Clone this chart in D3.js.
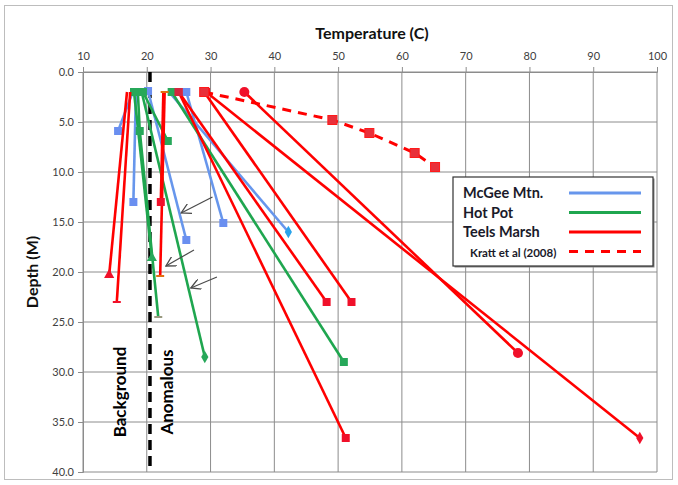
<!DOCTYPE html>
<html>
<head>
<meta charset="utf-8">
<script src="https://cdn.jsdelivr.net/npm/d3@7"></script>
<style>
body{margin:0;background:#fff;}
svg text{font-family:Lato,"Open Sans",sans-serif;}
</style>
</head>
<body>
<div id="container"></div>
<script>
//temperature profiles, each line is [temperature (C), depth (M)] points
var mcgeeLines = [
    [[17.8, 2.0], [15.5, 5.9]],
    [[18.3, 2.0], [17.9, 13.0]],
    [[20.2, 1.9], [26.2, 16.8]],
    [[26.2, 2.0], [32.0, 15.1]],
    [[23.5, 2.0], [42.2, 16.0]]
];
var hotPotLines = [
    [[18.0, 2.0], [20.8, 18.6]],
    [[18.6, 2.0], [18.9, 5.9], [21.8, 24.5]],
    [[19.2, 2.0], [29.1, 28.5]],
    [[19.4, 2.0], [23.3, 6.9]],
    [[23.9, 2.0], [50.9, 29.0]]
];
var teelsLines = [
    [[16.9, 2.0], [14.1, 20.3]],
    [[17.4, 2.0], [15.3, 23.0]],
    [[22.6, 2.0], [22.2, 13.0]],
    [[22.8, 2.0], [22.1, 20.4]],
    [[25.0, 2.0], [51.2, 36.6]],
    [[25.0, 2.0], [48.2, 23.0]],
    [[29.0, 2.0], [52.1, 23.0]],
    [[35.3, 2.0], [78.2, 28.1]],
    [[29.3, 2.0], [97.3, 36.6]]
];
var krattLine = [[29.0, 2.0], [49.1, 4.8], [54.9, 6.1], [62.0, 8.1], [65.2, 9.5]];

var tempTicks = [10, 20, 30, 40, 50, 60, 70, 80, 90, 100];
var depthTicks = [0, 5, 10, 15, 20, 25, 30, 35, 40];
var boundaryTemp = 20.5;
var legendNames = ["McGee Mtn.", "Hot Pot", "Teels Marsh", "Kratt et al (2008)"];

//arrows pointing at the anomalous wells, [from, to] in temperature/depth
var arrows = [
    [[30.3, 12.5], [25.4, 14.1]],
    [[27.4, 17.8], [23.0, 19.4]],
    [[31.0, 20.5], [26.9, 21.6]]
];

//marker shapes for each point of each line (styling)
var mcgeeMarks = [["none", "square"], ["none", "square"], ["square", "square"], ["square", "square"], ["none", "diamond"]];
var hotPotMarks = [["square", "triangle"], ["square", "square", "dash"], ["square", "diamond"], ["square", "square"], ["square", "square"]];
var teelsMarks = [["none", "triangle"], ["none", "dash"], ["none", "square"], ["dash", "dash"], ["square", "square"],
    ["square", "square"], ["square", "square"], ["circle", "circle"], ["square", "diamond"]];

var width = 678, height = 485;
var svg = d3.select("#container").append("svg")
    .attr("width", width)
    .attr("height", height);

//outer chart frame
svg.append("rect")
    .attr("x", 4.5).attr("y", 5.5)
    .attr("width", 668).attr("height", 474)
    .attr("fill", "#fff")
    .attr("stroke", "#bdbdbd");

var x = d3.scaleLinear().domain([10, 100]).range([83, 657]);
var y = d3.scaleLinear().domain([0, 40]).range([72, 472]);

//gridlines
svg.append("g").selectAll("line")
    .data(tempTicks)
    .enter().append("line")
    .attr("x1", d => x(d)).attr("x2", d => x(d))
    .attr("y1", y(0)).attr("y2", y(40))
    .attr("stroke", "#8c8c8c").attr("stroke-width", 1);
svg.append("g").selectAll("line")
    .data(depthTicks)
    .enter().append("line")
    .attr("x1", x(10)).attr("x2", x(100))
    .attr("y1", d => y(d)).attr("y2", d => y(d))
    .attr("stroke", "#8c8c8c").attr("stroke-width", 1);

//axes
var xAxis = d3.axisTop(x).tickValues(tempTicks).tickSize(5).tickPadding(4).tickFormat(d3.format("d"));
var yAxis = d3.axisLeft(y).tickValues(depthTicks).tickSize(5).tickPadding(4).tickFormat(d3.format(".1f"));

var gx = svg.append("g").attr("transform", "translate(0," + y(0) + ")").call(xAxis);
var gy = svg.append("g").attr("transform", "translate(" + x(10) + ",0)").call(yAxis);
[gx, gy].forEach(function(g){
    g.select(".domain").attr("stroke", "#8c8c8c");
    g.selectAll(".tick line").attr("stroke", "#8c8c8c");
    g.selectAll(".tick text").attr("fill", "#404040").style("font-size", "11px");
});
gx.selectAll(".tick text").attr("dy", "-3px");

svg.append("text")
    .attr("x", 372).attr("y", 39)
    .attr("text-anchor", "middle")
    .style("font-size", "16px").style("font-weight", "bold")
    .attr("fill", "#111")
    .text("Temperature (C)");

svg.append("text")
    .attr("transform", "translate(38," + y(20) + ") rotate(-90)")
    .attr("text-anchor", "middle")
    .style("font-size", "16px").style("font-weight", "bold")
    .attr("fill", "#111")
    .text("Depth (M)");

//background / anomalous boundary
svg.append("line")
    .attr("x1", x(boundaryTemp)).attr("x2", x(boundaryTemp))
    .attr("y1", y(0)).attr("y2", y(40))
    .attr("stroke", "#000").attr("stroke-width", 3.5)
    .attr("stroke-dasharray", "10,6");

svg.append("text")
    .attr("transform", "translate(" + (x(15.8) + 6) + "," + y(32) + ") rotate(-90)")
    .attr("text-anchor", "middle")
    .style("font-size", "17px").style("font-weight", "bold")
    .text("Background");
svg.append("text")
    .attr("transform", "translate(" + (x(23.2) + 6) + "," + y(32) + ") rotate(-90)")
    .attr("text-anchor", "middle")
    .style("font-size", "17px").style("font-weight", "bold")
    .text("Anomalous");

var line = d3.line().x(d => x(d[0])).y(d => y(d[1]));

function drawMark(g, type, px, py, color){
    if (type === "none") return;
    if (type === "dash") {
        g.append("line")
            .attr("x1", px - 4).attr("x2", px + 4)
            .attr("y1", py).attr("y2", py)
            .attr("stroke", color).attr("stroke-width", 2);
        return;
    }
    var sym = {square: d3.symbolSquare, triangle: d3.symbolTriangle, diamond: d3.symbolDiamond, circle: d3.symbolCircle}[type];
    var size = type === "square" ? 64 : (type === "circle" ? 80 : 45);
    g.append("path")
        .attr("d", d3.symbol().type(sym).size(size)())
        .attr("transform", "translate(" + px + "," + py + ")")
        .attr("fill", color);
}

function drawSeries(lines, marks, color, markColors){
    var g = svg.append("g");
    lines.forEach(function(pts){
        g.append("path")
            .attr("d", line(pts))
            .attr("fill", "none")
            .attr("stroke", color)
            .attr("stroke-width", 2.6);
    });
    lines.forEach(function(pts, i){
        pts.forEach(function(p, j){
            drawMark(g, marks[i][j], x(p[0]), y(p[1]), markColors ? markColors(i, j) : color);
        });
    });
}

var blue = "#6796ec", green = "#1fa64f", red = "#ff0000";

drawSeries(mcgeeLines, mcgeeMarks, blue, function(i, j){
    return (i === 4 && j === 1) ? "#2aa3ea" : "#6a8ff0";
});
drawSeries(hotPotLines, hotPotMarks, green, function(i, j){
    if (i === 1 && j === 2) return "#9a9a80";
    return "#27a85a";
});
drawSeries(teelsLines, teelsMarks, red, function(i, j){
    if (i === 3) return "#e07010";
    if ((i === 4 || i === 5) && j === 0) return "#d4253f";
    return "#f0102a";
});

//Kratt et al dashed series
var kg = svg.append("g");
kg.append("path")
    .attr("d", line(krattLine))
    .attr("fill", "none")
    .attr("stroke", red)
    .attr("stroke-width", 3)
    .attr("stroke-dasharray", "9,7");
krattLine.forEach(function(p){
    kg.append("rect")
        .attr("x", x(p[0]) - 4.5).attr("y", y(p[1]) - 4.5)
        .attr("width", 9).attr("height", 9)
        .attr("fill", "#e8303a").attr("stroke", "#ff1a1a");
});

//arrows
svg.append("defs").append("marker")
    .attr("id", "arrowhead")
    .attr("viewBox", "0 0 10 10")
    .attr("refX", 9).attr("refY", 5)
    .attr("markerWidth", 9).attr("markerHeight", 9)
    .attr("orient", "auto")
    .append("path")
    .attr("d", "M0,0 L9,5 L0,10")
    .attr("fill", "none")
    .attr("stroke", "#4a4a4a")
    .attr("stroke-width", 1.2);
svg.append("g").selectAll("line")
    .data(arrows)
    .enter().append("line")
    .attr("x1", d => x(d[0][0])).attr("y1", d => y(d[0][1]))
    .attr("x2", d => x(d[1][0])).attr("y2", d => y(d[1][1]))
    .attr("stroke", "#4a4a4a").attr("stroke-width", 1.2)
    .attr("marker-end", "url(#arrowhead)");

//legend
var legend = svg.append("g").attr("transform", "translate(453,177)");
legend.append("rect")
    .attr("x", 1.5).attr("y", 1.5)
    .attr("width", 200).attr("height", 89)
    .attr("fill", "#888");
legend.append("rect")
    .attr("width", 200).attr("height", 89)
    .attr("fill", "#fff")
    .attr("stroke", "#333").attr("stroke-width", 1.2);
var legendColors = [blue, green, red, red];
legendNames.forEach(function(name, i){
    var ly = 16 + i * 19.5;
    legend.append("text")
        .attr("x", i === 3 ? 17 : 10).attr("y", ly + 5)
        .style("font-size", i === 3 ? "11.5px" : "14.5px")
        .style("font-weight", "bold")
        .attr("fill", "#1a1a2a")
        .text(name);
    legend.append("line")
        .attr("x1", 116).attr("x2", 188)
        .attr("y1", ly).attr("y2", ly)
        .attr("stroke", legendColors[i])
        .attr("stroke-width", 3)
        .attr("stroke-dasharray", i === 3 ? "9,7" : null);
});
</script>
</body>
</html>
